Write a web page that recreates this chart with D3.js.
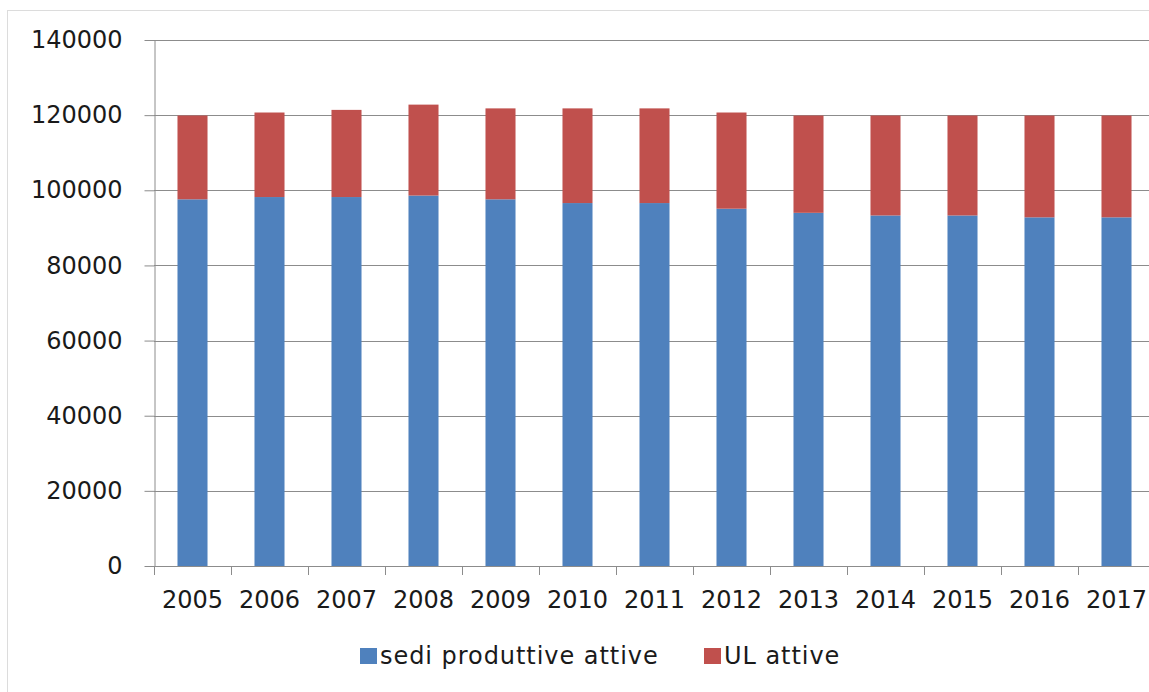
<!DOCTYPE html>
<html>
<head>
<meta charset="utf-8">
<script src="https://cdn.jsdelivr.net/npm/d3@7"></script>
<style>
  html, body { margin: 0; padding: 0; background: #fff; overflow: hidden; }
  svg { display: block; font-family: "DejaVu Sans", Verdana, sans-serif; }
</style>
</head>
<body>
<svg id="chart" width="1149" height="692"></svg>
<script>
const years = ["2005","2006","2007","2008","2009","2010","2011","2012","2013","2014","2015","2016","2017"];
const sediProduttive = [97600, 98200, 98200, 98600, 97600, 96600, 96600, 95100, 94000, 93300, 93300, 92800, 92800];
const ulAttive = [22300, 22500, 23200, 24200, 24200, 25200, 25200, 25600, 25900, 26600, 26600, 27100, 27100];
const seriesNames = ["sedi produttive attive", "UL attive"];
const seriesColors = ["#4F81BD", "#C0504D"];
const yTicks = [0, 20000, 40000, 60000, 80000, 100000, 120000, 140000];

const svg = d3.select("#chart");
const W = 1149, H = 692;

// outer chart border
svg.append("rect").attr("x", 7.5).attr("y", 10.5).attr("width", 1160).attr("height", 700)
  .attr("fill", "#fff").attr("stroke", "#dcdcdc").attr("stroke-width", 1);

const x0 = 154, step = 77;
const x = d3.scaleBand().domain(years).range([x0, x0 + step * years.length])
  .paddingInner(0.61).paddingOuter(0.305);
const y = d3.scaleLinear().domain([0, 140000]).range([566, 40]);

const rows = years.map((yr, i) => ({ year: yr, sedi: sediProduttive[i], ul: ulAttive[i] }));
const stack = d3.stack().keys(["sedi", "ul"]);
const stacked = stack(rows);

// gridlines
svg.append("g").selectAll("line").data(yTicks.filter(v => v > 0)).join("line")
  .attr("x1", x0).attr("x2", W)
  .attr("y1", d => Math.round(y(d)) + 0.5).attr("y2", d => Math.round(y(d)) + 0.5)
  .attr("stroke", "#8c8c8c").attr("stroke-width", 1);

// bars
svg.append("g").selectAll("g").data(stacked).join("g")
  .attr("fill", (d, i) => seriesColors[i])
  .selectAll("rect").data(d => d).join("rect")
  .attr("x", d => x(d.data.year))
  .attr("width", x.bandwidth())
  .attr("y", d => y(d[1]))
  .attr("height", d => y(d[0]) - y(d[1]));

// y axis
const yAxis = svg.append("g").attr("transform", `translate(${x0 + 0.5},0)`)
  .call(d3.axisLeft(y).tickValues(yTicks).tickFormat(d3.format("d")).tickSize(10).tickSizeOuter(0).tickPadding(22));
yAxis.select(".domain").attr("stroke", "#8c8c8c");
yAxis.selectAll(".tick line").attr("stroke", "#8c8c8c");
yAxis.selectAll("text").attr("font-size", 24).attr("fill", "#1a1a1a").attr("font-family", "DejaVu Sans, Verdana, sans-serif");

// x axis baseline
svg.append("line").attr("x1", x0).attr("x2", W).attr("y1", y(0) + 0.5).attr("y2", y(0) + 0.5)
  .attr("stroke", "#8c8c8c");

// x boundary ticks
const bounds = d3.range(years.length + 1).map(i => x0 + i * x.step());
svg.append("g").selectAll("line").data(bounds).join("line")
  .attr("x1", d => Math.round(d) + 0.5).attr("x2", d => Math.round(d) + 0.5)
  .attr("y1", y(0)).attr("y2", y(0) + 9)
  .attr("stroke", "#8c8c8c");

// x labels
const xAxis = svg.append("g").attr("transform", `translate(0,${y(0)})`)
  .call(d3.axisBottom(x).tickSize(0).tickPadding(25));
xAxis.select(".domain").remove();
xAxis.selectAll("text").attr("font-size", 24).attr("fill", "#1a1a1a").attr("font-family", "DejaVu Sans, Verdana, sans-serif");

// legend
const legend = svg.append("g").attr("font-size", 24).attr("fill", "#1a1a1a");
const legendItems = [{ name: seriesNames[0], color: seriesColors[0], x: 360 }, { name: seriesNames[1], color: seriesColors[1], x: 704 }];
legendItems.forEach(it => {
  legend.append("rect").attr("x", it.x).attr("y", 648).attr("width", 17).attr("height", 16).attr("fill", it.color);
  legend.append("text").attr("x", it.x + 20).attr("y", 664).attr("letter-spacing", 0.95)
    .attr("fill", "#1a1a1a").text(it.name);
});
</script>
</body>
</html>
